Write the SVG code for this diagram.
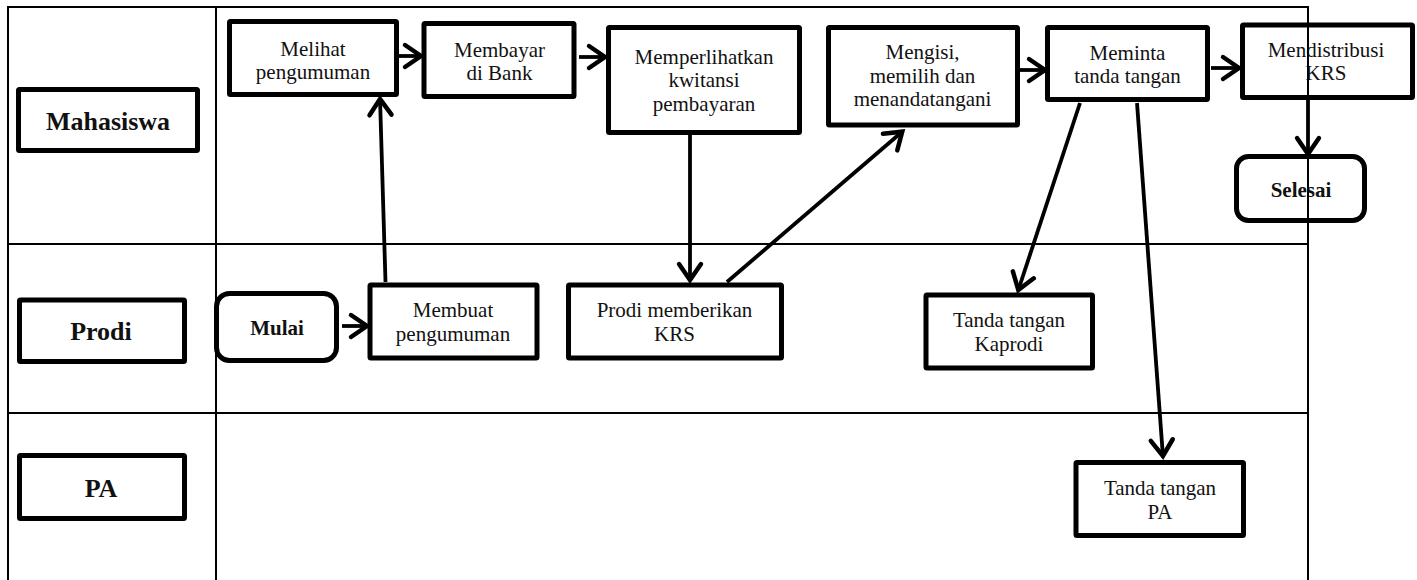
<svg xmlns="http://www.w3.org/2000/svg" width="1417" height="580" viewBox="0 0 1417 580">
  <style>
    .box { fill: #fff; stroke: #000; stroke-width: 5; }
    .lbl { font-family: "Liberation Serif", "Times New Roman", serif; font-size: 21px; fill: #111; text-anchor: middle; }
    .lane { font-family: "Liberation Serif", "Times New Roman", serif; font-size: 26px; font-weight: bold; fill: #111; text-anchor: middle; }
    .term { font-family: "Liberation Serif", "Times New Roman", serif; font-size: 21px; font-weight: bold; fill: #111; text-anchor: middle; }
    .edge { fill: none; stroke: #000; stroke-width: 3.8; marker-end: url(#arrow); }
    .grid { fill: none; stroke: #000; stroke-width: 2; }
  </style>
  <defs>
    <marker id="arrow" markerUnits="userSpaceOnUse" viewBox="-22 -15 26 30" markerWidth="26" markerHeight="30" refX="0" refY="0" orient="auto" overflow="visible">
      <path d="M-17,-11 L-1,0 L-17,11" fill="none" stroke="#000" stroke-width="4.5" stroke-linecap="round" stroke-linejoin="miter"/>
    </marker>
  </defs>

  <rect width="1417" height="580" fill="#fff"/>

  <!-- lane headers -->
  <g id="lane-mahasiswa">
    <rect class="box" x="18.5" y="89.5" width="179" height="61" rx="1"/>
    <text class="lane" x="108" y="130">Mahasiswa</text>
  </g>
  <g id="lane-prodi">
    <rect class="box" x="19.5" y="300" width="165" height="61.5" rx="1"/>
    <text class="lane" x="101" y="340">Prodi</text>
  </g>
  <g id="lane-pa">
    <rect class="box" x="19.5" y="455.5" width="165" height="63" rx="1"/>
    <text class="lane" x="101" y="497">PA</text>
  </g>

  <!-- process steps -->
  <g id="melihat-pengumuman">
    <rect class="box" x="229.5" y="21.5" width="167" height="73" rx="1"/>
    <text class="lbl" x="313" y="56">Melihat</text>
    <text class="lbl" x="313" y="79">pengumuman</text>
  </g>
  <g id="membayar-di-bank">
    <rect class="box" x="424" y="23.5" width="150" height="73" rx="1"/>
    <text class="lbl" x="499.5" y="57">Membayar</text>
    <text class="lbl" x="499.5" y="80">di Bank</text>
  </g>
  <g id="memperlihatkan-kwitansi">
    <rect class="box" x="608.5" y="27.5" width="191" height="105" rx="1"/>
    <text class="lbl" x="704" y="64">Memperlihatkan</text>
    <text class="lbl" x="704" y="87">kwitansi</text>
    <text class="lbl" x="704" y="111">pembayaran</text>
  </g>
  <g id="mengisi-krs">
    <rect class="box" x="828.5" y="27.5" width="189" height="97.5" rx="1"/>
    <text class="lbl" x="922.5" y="59">Mengisi,</text>
    <text class="lbl" x="922.5" y="83">memilih dan</text>
    <text class="lbl" x="922.5" y="106">menandatangani</text>
  </g>
  <g id="meminta-tanda-tangan">
    <rect class="box" x="1047.5" y="27.5" width="160" height="72" rx="1"/>
    <text class="lbl" x="1127.5" y="60">Meminta</text>
    <text class="lbl" x="1127.5" y="83">tanda tangan</text>
  </g>
  <g id="mendistribusi-krs">
    <rect class="box" x="1242.5" y="25" width="170" height="72.5" rx="1"/>
    <text class="lbl" x="1326" y="57">Mendistribusi</text>
    <text class="lbl" x="1326" y="80">KRS</text>
  </g>
  <g id="selesai">
    <rect class="box" x="1236.5" y="156.5" width="128" height="64" rx="12"/>
    <text class="term" x="1301" y="197">Selesai</text>
  </g>
  <g id="mulai">
    <rect class="box" x="216.5" y="293.5" width="120" height="67" rx="13"/>
    <text class="term" x="277" y="335">Mulai</text>
  </g>
  <g id="membuat-pengumuman">
    <rect class="box" x="370" y="285" width="167" height="73" rx="1"/>
    <text class="lbl" x="453" y="317">Membuat</text>
    <text class="lbl" x="453" y="341">pengumuman</text>
  </g>
  <g id="prodi-memberikan-krs">
    <rect class="box" x="568.5" y="285" width="213" height="73" rx="1"/>
    <text class="lbl" x="674.5" y="317">Prodi memberikan</text>
    <text class="lbl" x="674.5" y="341">KRS</text>
  </g>
  <g id="ttd-kaprodi">
    <rect class="box" x="926" y="295" width="166.5" height="73" rx="1"/>
    <text class="lbl" x="1009" y="327">Tanda tangan</text>
    <text class="lbl" x="1009" y="351">Kaprodi</text>
  </g>
  <g id="ttd-pa">
    <rect class="box" x="1076" y="462.5" width="167.5" height="73" rx="1"/>
    <text class="lbl" x="1160" y="495">Tanda tangan</text>
    <text class="lbl" x="1160" y="519">PA</text>
  </g>

  <!-- flow connectors -->
  <g id="connectors">
    <line class="edge" x1="399" y1="56" x2="422" y2="56"/>
    <line class="edge" x1="579" y1="57" x2="606" y2="57"/>
    <line class="edge" x1="690" y1="135" x2="690" y2="281"/>
    <line class="edge" x1="727" y1="282" x2="903" y2="131"/>
    <line class="edge" x1="1020" y1="70" x2="1046" y2="70"/>
    <line class="edge" x1="1211" y1="68" x2="1240" y2="68"/>
    <line class="edge" x1="1080" y1="103" x2="1018" y2="291"/>
    <line class="edge" x1="1137" y1="103" x2="1163" y2="457"/>
    <line class="edge" x1="1308" y1="100" x2="1308" y2="155"/>
    <line class="edge" x1="342" y1="326" x2="368" y2="326"/>
    <line class="edge" x1="385.5" y1="282" x2="380" y2="98"/>
  </g>

  <!-- swimlane frame -->
  <g id="frame">
    <path class="grid" d="M8,580 V7 H1308 V580"/>
    <line class="grid" x1="216" y1="7" x2="216" y2="580"/>
    <line class="grid" x1="8" y1="244" x2="1308" y2="244"/>
    <line class="grid" x1="8" y1="413" x2="1308" y2="413"/>
  </g>
</svg>
